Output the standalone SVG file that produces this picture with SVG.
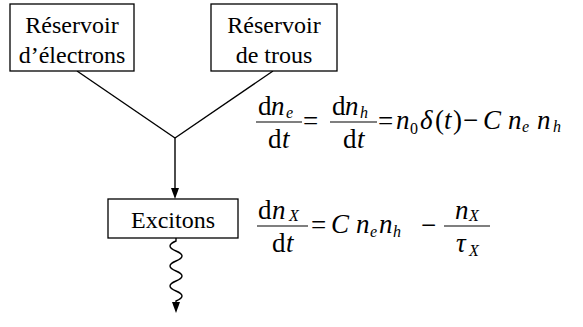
<svg xmlns="http://www.w3.org/2000/svg" width="583" height="327" viewBox="0 0 583 327">
<g id="connectors" fill="none" stroke="#000" stroke-width="1.4">
<line x1="77" y1="71" x2="175" y2="138"/>
<line x1="273" y1="71" x2="175" y2="138"/>
<line x1="175" y1="138" x2="175" y2="190"/>
<path d="M171,188 L179,188 L175,199 Z" fill="#000" stroke="none"/>
<path d="M176,238 L176,241 Q164,246 176,251 Q188,256 176,261 Q164,266 176,271 Q188,276 176,281 Q164,286 176,291 Q188,296 176,301 L176,304"/>
<path d="M172,302 L180,302 L176,313 Z" fill="#000" stroke="none"/>
</g>
<g id="node-electrons">
<rect x="10" y="4" width="124" height="67" fill="#fff" stroke="#000" stroke-width="1.3"/>
<text font-family="Liberation Serif" font-size="24" text-anchor="middle" x="72" y="33">Réservoir</text>
<text font-family="Liberation Serif" font-size="24" text-anchor="middle" x="72" y="63">d’électrons</text>
</g>
<g id="node-trous">
<rect x="211" y="4" width="126" height="67" fill="#fff" stroke="#000" stroke-width="1.3"/>
<text font-family="Liberation Serif" font-size="24" text-anchor="middle" x="274" y="33">Réservoir</text>
<text font-family="Liberation Serif" font-size="24" text-anchor="middle" x="274" y="63">de trous</text>
</g>
<g id="node-excitons">
<rect x="108" y="199" width="130" height="39" fill="#fff" stroke="#000" stroke-width="1.3"/>
<text font-family="Liberation Serif" font-size="24" text-anchor="middle" x="173" y="228">Excitons</text>
</g>
<g id="eq1">
<text font-family="Liberation Serif" font-size="27" x="258" y="115">d</text>
<text font-family="Liberation Serif" font-size="27" font-style="italic" x="271" y="115">n</text>
<text font-family="Liberation Serif" font-size="16" font-style="italic" x="286" y="118">e</text>
<line x1="256" y1="122" x2="302" y2="122" stroke="#000" stroke-width="1.2"/>
<text font-family="Liberation Serif" font-size="27" x="268" y="148">d</text>
<text font-family="Liberation Serif" font-size="27" font-style="italic" x="282" y="148">t</text>
<text font-family="Liberation Serif" font-size="27" x="303" y="130">=</text>
<text font-family="Liberation Serif" font-size="27" x="332" y="115">d</text>
<text font-family="Liberation Serif" font-size="27" font-style="italic" x="345" y="115">n</text>
<text font-family="Liberation Serif" font-size="16" font-style="italic" x="360" y="118">h</text>
<line x1="330" y1="122" x2="377" y2="122" stroke="#000" stroke-width="1.2"/>
<text font-family="Liberation Serif" font-size="27" x="343" y="148">d</text>
<text font-family="Liberation Serif" font-size="27" font-style="italic" x="357" y="148">t</text>
<text font-family="Liberation Serif" font-size="27" x="378" y="130">=</text>
<text font-family="Liberation Serif" font-size="27" font-style="italic" x="396" y="129">n</text>
<text font-family="Liberation Serif" font-size="16" x="410" y="134">0</text>
<text font-family="Liberation Serif" font-size="27" font-style="italic" x="420" y="129">δ</text>
<text font-family="Liberation Serif" font-size="27" x="435" y="129">(</text>
<text font-family="Liberation Serif" font-size="27" font-style="italic" x="444" y="129">t</text>
<text font-family="Liberation Serif" font-size="27" x="453" y="129">)</text>
<text font-family="Liberation Serif" font-size="27" x="463" y="129">−</text>
<text font-family="Liberation Serif" font-size="27" font-style="italic" x="483" y="129">C</text>
<text font-family="Liberation Serif" font-size="27" font-style="italic" x="508" y="129">n</text>
<text font-family="Liberation Serif" font-size="16" font-style="italic" x="522" y="132">e</text>
<text font-family="Liberation Serif" font-size="27" font-style="italic" x="537" y="129">n</text>
<text font-family="Liberation Serif" font-size="16" font-style="italic" x="553" y="132">h</text>
</g>
<g id="eq2">
<text font-family="Liberation Serif" font-size="27" x="258" y="219">d</text>
<text font-family="Liberation Serif" font-size="27" font-style="italic" x="272" y="219">n</text>
<text font-family="Liberation Serif" font-size="16" font-style="italic" x="289" y="221">X</text>
<line x1="257" y1="226" x2="308" y2="226" stroke="#000" stroke-width="1.2"/>
<text font-family="Liberation Serif" font-size="27" x="272" y="252">d</text>
<text font-family="Liberation Serif" font-size="27" font-style="italic" x="286" y="252">t</text>
<text font-family="Liberation Serif" font-size="27" x="311" y="234">=</text>
<text font-family="Liberation Serif" font-size="27" font-style="italic" x="331" y="233">C</text>
<text font-family="Liberation Serif" font-size="27" font-style="italic" x="356" y="233">n</text>
<text font-family="Liberation Serif" font-size="16" font-style="italic" x="370" y="237">e</text>
<text font-family="Liberation Serif" font-size="27" font-style="italic" x="379" y="233">n</text>
<text font-family="Liberation Serif" font-size="16" font-style="italic" x="393" y="237">h</text>
<text font-family="Liberation Serif" font-size="27" x="421" y="234">−</text>
<text font-family="Liberation Serif" font-size="27" font-style="italic" x="455" y="219">n</text>
<text font-family="Liberation Serif" font-size="16" font-style="italic" x="469" y="221">X</text>
<line x1="444" y1="226" x2="490" y2="226" stroke="#000" stroke-width="1.2"/>
<text font-family="Liberation Serif" font-size="27" font-style="italic" x="456" y="252">τ</text>
<text font-family="Liberation Serif" font-size="16" font-style="italic" x="469" y="256">X</text>
</g>
</svg>
